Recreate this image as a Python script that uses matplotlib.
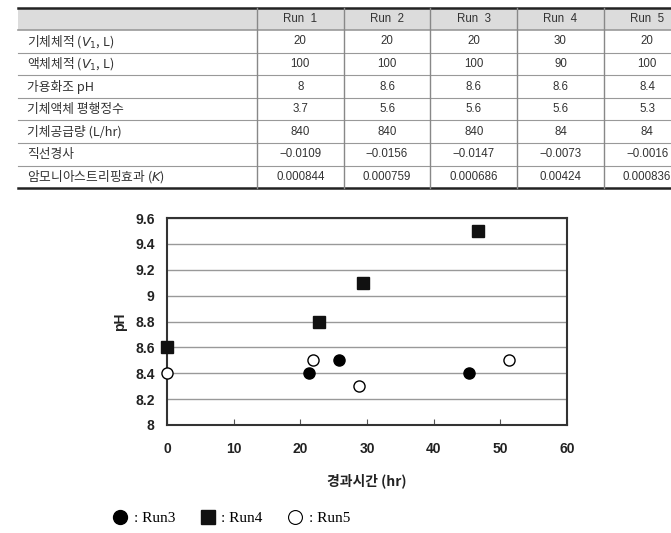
import matplotlib
matplotlib.use('Agg')
import matplotlib.pyplot as plt
from matplotlib.lines import Line2D

plt.rcParams['font.family'] = ['Noto Sans CJK KR', 'DejaVu Sans']
plt.rcParams['axes.unicode_minus'] = False
plt.rcParams['mathtext.fontset'] = 'dejavusans'

# 표 데이터
runs = ['Run  1', 'Run  2', 'Run  3', 'Run  4', 'Run  5']
row_labels = ['기체체적 ($V_1$, L)', '액체체적 ($V_1$, L)', '가용화조 pH', '기체액체 평행정수',
              '기체공급량 (L/hr)', '직선경사', '암모니아스트리핑효과 ($K$)']
table_vals = [
    ['20', '20', '20', '30', '20'],
    ['100', '100', '100', '90', '100'],
    ['8', '8.6', '8.6', '8.6', '8.4'],
    ['3.7', '5.6', '5.6', '5.6', '5.3'],
    ['840', '840', '840', '84', '84'],
    ['\u22120.0109', '\u22120.0156', '\u22120.0147', '\u22120.0073', '\u22120.0016'],
    ['0.000844', '0.000759', '0.000686', '0.00424', '0.000836'],
]

# 그래프 데이터 (경과시간 hr, pH)
run3_t = [21.3, 25.8, 45.3]
run3_ph = [8.4, 8.5, 8.4]
run4_t = [0, 22.8, 29.4, 46.7]
run4_ph = [8.6, 8.8, 9.1, 9.5]
run5_t = [0, 21.9, 28.8, 51.3]
run5_ph = [8.4, 8.5, 8.3, 8.5]

fig = plt.figure(figsize=(6.71, 5.33), dpi=100)

# ---- 표 (픽셀 좌표) ----
tax = fig.add_axes([0, 0, 1, 1])
tax.set_xlim(0, 671)
tax.set_ylim(533, 0)
tax.axis('off')

left, top, head_h, row_h = 18, 8, 22, 22.6
first_w, col_w = 239, 86.7
n_rows = len(row_labels)
bottom = top + head_h + row_h * n_rows
num_font = ['Liberation Sans', 'DejaVu Sans']

tax.add_patch(plt.Rectangle((left, top), 700, head_h, color='#dcdcdc', lw=0))
for i in range(n_rows):
    y = top + head_h + row_h * i
    tax.plot([left, 700], [y, y], color='#999999', lw=1.2 if i == 0 else 0.8)
tax.plot([left, 700], [top, top], color='#222222', lw=1.8)
tax.plot([left, 700], [bottom, bottom], color='#222222', lw=1.8)
for j in range(len(runs)):
    x = left + first_w + col_w * j
    tax.plot([x, x], [top, bottom], color='#888888', lw=1.0)

for j, r in enumerate(runs):
    tax.text(left + first_w + col_w * (j + 0.5), top + head_h / 2, r,
             ha='center', va='center', fontsize=8.3, color='#333333', family=num_font)
for i, lab in enumerate(row_labels):
    yc = top + head_h + row_h * (i + 0.5)
    tax.text(left + 9, yc, lab, ha='left', va='center', fontsize=9.2, color='#333333')
    for j, v in enumerate(table_vals[i]):
        tax.text(left + first_w + col_w * (j + 0.5), yc, v,
                 ha='center', va='center', fontsize=8.3, color='#333333', family=num_font)

# ---- 산점도 ----
ax = fig.add_axes([167 / 671, 1 - 425 / 533, 400 / 671, 207 / 533])
ax.set_xlim(0, 60)
ax.set_ylim(8, 9.6)
ax.set_xticks(range(0, 61, 10))
ax.set_yticks([8, 8.2, 8.4, 8.6, 8.8, 9, 9.2, 9.4, 9.6])
ax.set_yticklabels(['8', '8.2', '8.4', '8.6', '8.8', '9', '9.2', '9.4', '9.6'])
ax.yaxis.grid(True, color='#999999', lw=1.0)
ax.set_axisbelow(True)
for s in ax.spines.values():
    s.set_color('#333333')
    s.set_linewidth(1.5)
ax.tick_params(axis='x', direction='in', length=4, color='#555555', pad=12)
ax.tick_params(axis='y', length=0, pad=9)
for lbl in ax.get_xticklabels() + ax.get_yticklabels():
    lbl.set_fontfamily('Liberation Sans')
    lbl.set_fontweight('bold')
    lbl.set_fontsize(10)
    lbl.set_color('#222222')

ax.plot(run3_t, run3_ph, 'o', ms=8, color='black', clip_on=False, zorder=5)
ax.plot(run4_t, run4_ph, 's', ms=9, color='#111111', clip_on=False, zorder=5)
ax.plot(run5_t, run5_ph, 'o', ms=8, mfc='white', mec='black', mew=1.0, clip_on=False, zorder=5)

ax.set_xlabel('경과시간 (hr)', fontsize=10, fontweight='bold', labelpad=13, color='#222222')
ax.set_ylabel('pH', fontsize=10, fontweight='bold', labelpad=6, color='#222222',
              fontfamily='Liberation Sans')

handles = [
    Line2D([], [], ls='none', marker='o', ms=10, color='black'),
    Line2D([], [], ls='none', marker='s', ms=10, color='#111111'),
    Line2D([], [], ls='none', marker='o', ms=10, mfc='white', mec='black', mew=0.8),
]
fig.legend(handles, [': Run3', ': Run4', ': Run5'], loc='center left',
           bbox_to_anchor=(99 / 671, 1 - 518 / 533), ncol=3, frameon=False,
           handlelength=1.0, handletextpad=0.4, columnspacing=1.6,
           prop={'family': 'Liberation Serif', 'size': 11})

fig.savefig('out.png', dpi=100)
